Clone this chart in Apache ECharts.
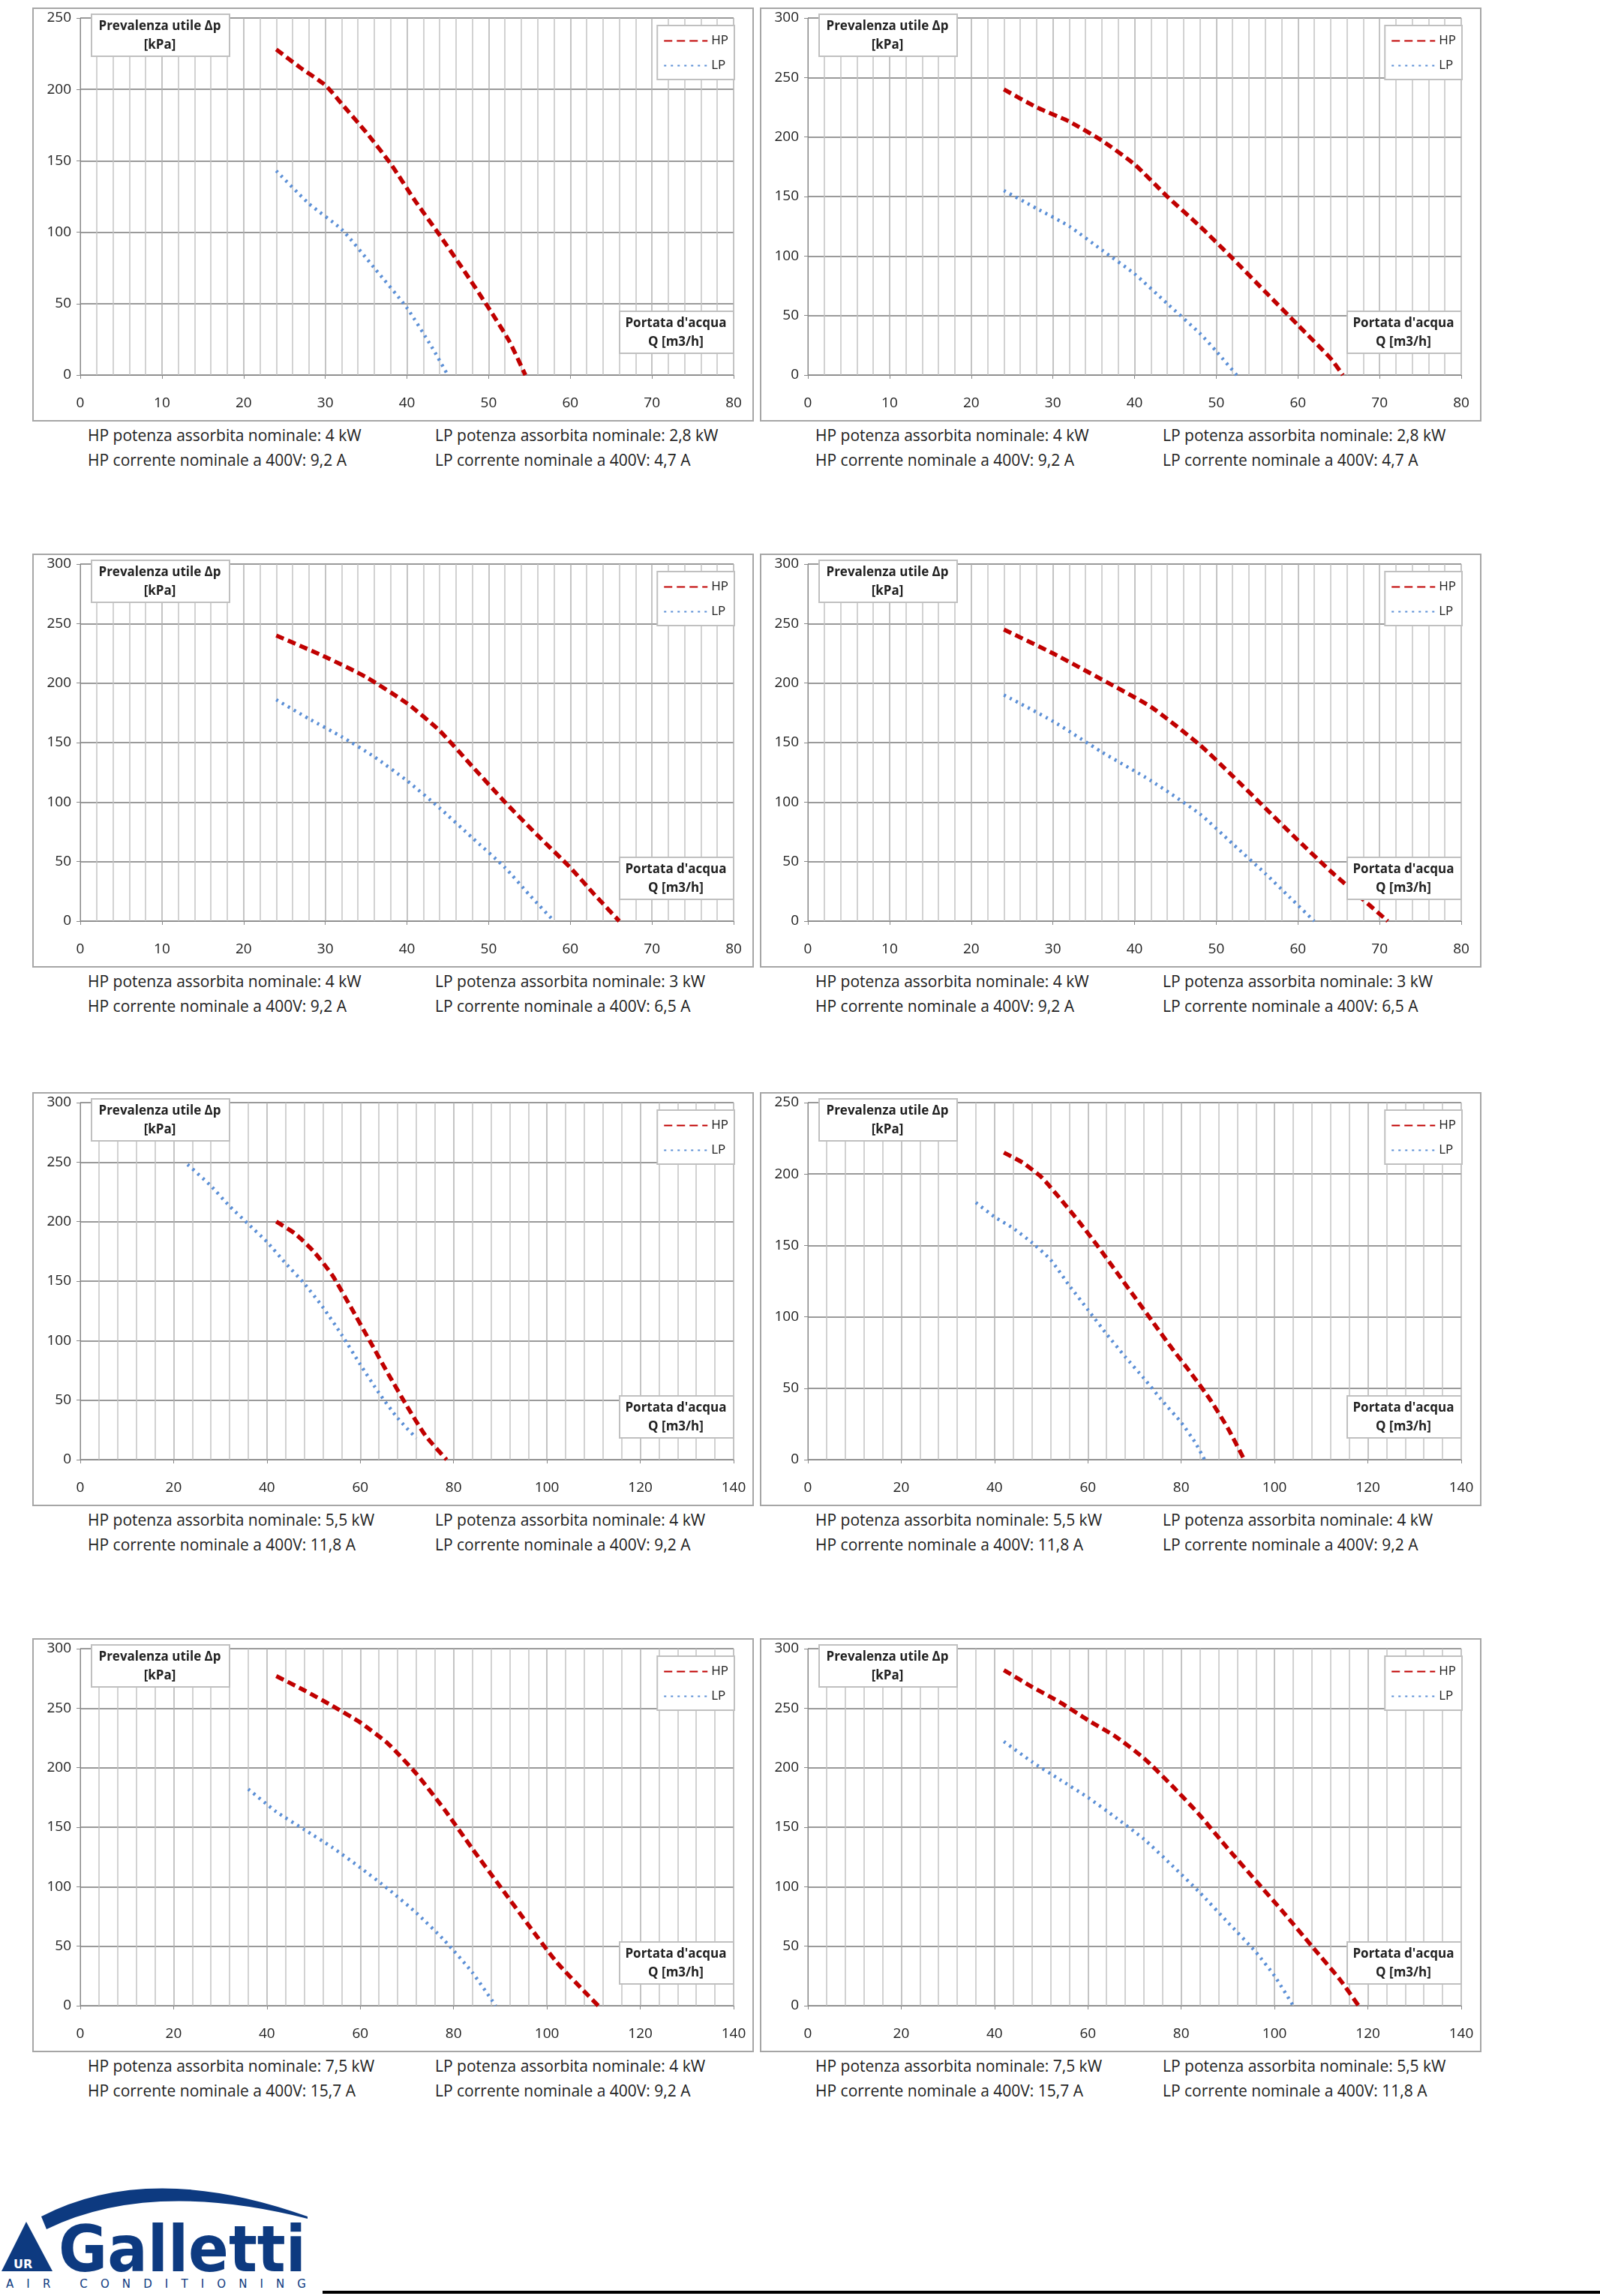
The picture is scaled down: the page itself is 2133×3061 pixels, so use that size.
<!DOCTYPE html>
<html>
<head>
<meta charset="utf-8">
<script src="https://cdn.jsdelivr.net/npm/echarts@6/dist/echarts.min.js"></script>
<style>
body { margin:0; background:#fff; width:2133px; height:3061px; position:relative; overflow:hidden;
  font-family:"Liberation Sans Narrow","Open Sans",sans-serif; }
.panel { position:absolute; width:962px; height:552px; border:2px solid #a6a6a6; box-sizing:border-box; }
.chart { position:absolute; left:0; top:0; width:958px; height:548px; }
.cap { position:absolute; font-size:21px; color:#222; white-space:nowrap; }
</style>
</head>
<body>
<script>
// curve values [Q m3/h, dp kPa]
var hp1 = [[24,228],[27,215],[30,203],[32,190],[35,170],[38,148],[41,122],[44,98],[47,73],[50,47],[52.5,24],[54.5,0]];
var lp1 = [[24,143],[28,120],[32,102],[36,75],[40,47],[43,20],[45,0]];
var hp2 = [[24,240],[28,225],[32,213],[36,197],[40,177],[44,150],[48,125],[52,98],[56,70],[60,42],[64,14],[65.5,0]];
var lp2 = [[24,155],[28,140],[32,125],[36,105],[40,85],[44,60],[48,35],[50,20],[52.5,0]];
var hp3 = [[24,240],[30,222],[35,205],[40,183],[44,160],[48,130],[52,100],[56,72],[60,45],[63,22],[66,0]];
var lp3 = [[24,186],[28,170],[32,155],[36,138],[40,118],[44,95],[48,70],[52,45],[55,22],[58,0]];
var hp4 = [[24,245],[30,225],[36,203],[42,180],[48,148],[52,122],[56,95],[60,68],[64,42],[68,18],[71,0]];
var lp4 = [[24,190],[30,168],[36,142],[42,118],[48,90],[52,65],[56,40],[59,20],[62,0]];
var hp5 = [[42,200],[46,190],[50,175],[54,155],[58,128],[62,100],[66,72],[70,45],[74,20],[78.5,0]];
var lp5 = [[23,248],[28,230],[32,213],[36,198],[40,183],[44,165],[48,148],[52,128],[56,105],[60,80],[64,56],[68,35],[72,18]];
var hp6 = [[42,215],[46,208],[50,198],[54,183],[58,167],[62,150],[66,132],[70,114],[74,96],[78,78],[82,61],[86,43],[90,22],[93.5,0]];
var lp6 = [[36,180],[40,170],[44,162],[48,152],[52,140],[56,122],[60,105],[64,88],[68,72],[72,57],[76,41],[80,26],[83,12],[85,0]];
var hp7 = [[42,277],[48,265],[54,252],[60,238],[66,220],[72,195],[78,165],[84,132],[90,100],[96,68],[102,37],[108,12],[111,0]];
var lp7 = [[36,182],[42,163],[48,148],[54,133],[60,116],[66,98],[72,78],[78,55],[84,28],[89,0]];
var hp8 = [[42,282],[48,268],[54,255],[60,240],[66,226],[72,208],[78,185],[84,160],[90,132],[96,105],[102,78],[108,50],[114,22],[118,0]];
var lp8 = [[42,222],[48,205],[54,190],[60,175],[66,158],[72,140],[78,118],[84,95],[90,70],[96,45],[100,25],[104,0]];

var xMax = [80, 80, 80, 80, 140, 140, 140, 140];
var yMax = [250, 300, 300, 300, 300, 250, 300, 300];
var hpPower = ['4', '4', '4', '4', '5,5', '5,5', '7,5', '7,5'];
var hpCurrent = ['9,2', '9,2', '9,2', '9,2', '11,8', '11,8', '15,7', '15,7'];
var lpPower = ['2,8', '2,8', '3', '3', '4', '4', '4', '5,5'];
var lpCurrent = ['4,7', '4,7', '6,5', '6,5', '9,2', '9,2', '9,2', '11,8'];
var hpData = [hp1, hp2, hp3, hp4, hp5, hp6, hp7, hp8];
var lpData = [lp1, lp2, lp3, lp4, lp5, lp6, lp7, lp8];

var font = '"Liberation Sans Narrow","Open Sans",sans-serif';
var colLeft = [43, 1013];
var rowTop = [10, 738, 1456, 2184];

function drawPanel(i) {
    var px = colLeft[i % 2], py = rowTop[Math.floor(i / 2)];
    var panel = document.createElement('div');
    panel.className = 'panel';
    panel.style.left = px + 'px';
    panel.style.top = py + 'px';
    document.body.appendChild(panel);
    var box = document.createElement('div');
    box.className = 'chart';
    panel.appendChild(box);

    var caps = [
        [74, 556, 'HP potenza assorbita nominale: ' + hpPower[i] + ' kW'],
        [537, 556, 'LP potenza assorbita nominale: ' + lpPower[i] + ' kW'],
        [74, 589, 'HP corrente nominale a 400V: ' + hpCurrent[i] + ' A'],
        [537, 589, 'LP corrente nominale a 400V: ' + lpCurrent[i] + ' A']
    ];
    caps.forEach(function (c) {
        var d = document.createElement('div');
        d.className = 'cap';
        d.style.left = (px + c[0]) + 'px';
        d.style.top = (py + c[1]) + 'px';
        d.textContent = c[2];
        document.body.appendChild(d);
    });

    var chart = echarts.init(box);
    var xInt = xMax[i] === 80 ? 10 : 20;
    chart.setOption({
        animation: false,
        textStyle: {fontFamily: font},
        grid: {left: 62, right: 25, top: 12, bottom: 60},
        xAxis: {
            type: 'value', min: 0, max: xMax[i], interval: xInt,
            axisLine: {lineStyle: {color: '#888'}},
            axisTick: {show: true, lineStyle: {color: '#888'}},
            axisLabel: {fontSize: 19, color: '#222', margin: 28, fontFamily: font},
            splitLine: {show: true, lineStyle: {color: '#b0b0b0', width: 1.5}},
            minorTick: {show: false, splitNumber: 5},
            minorSplitLine: {show: true, lineStyle: {color: '#c4c4c4', width: 1.5}}
        },
        yAxis: {
            type: 'value', min: 0, max: yMax[i], interval: 50,
            axisLine: {show: true, lineStyle: {color: '#888'}},
            axisTick: {show: true, lineStyle: {color: '#888'}},
            axisLabel: {fontSize: 19, color: '#222', margin: 12, fontFamily: font},
            splitLine: {lineStyle: {color: '#9a9a9a', width: 2}}
        },
        legend: {
            orient: 'vertical', right: 24, top: 22, itemGap: 16,
            backgroundColor: '#fff', borderColor: '#c0c0c0', borderWidth: 2,
            padding: [12, 8, 10, 8], itemWidth: 58, itemHeight: 14,
            itemStyle: {opacity: 0},
            textStyle: {fontSize: 17, color: '#222', fontFamily: font},
            data: ['HP', 'LP']
        },
        graphic: [
            {type: 'rect', left: 76, top: 6, shape: {width: 184, height: 56},
             style: {fill: '#fff', stroke: '#c0c0c0', lineWidth: 2}, z: 50},
            {type: 'text', z: 51,
             style: {x: 168, y: 11, text: 'Prevalenza utile Δp\n[kPa]', align: 'center', fill: '#222',
                     font: 'bold 17px ' + font, lineHeight: 25}},
            {type: 'rect', left: 780, top: 402, shape: {width: 152, height: 56},
             style: {fill: '#fff', stroke: '#c0c0c0', lineWidth: 2}, z: 50},
            {type: 'text', z: 51,
             style: {x: 856, y: 407, text: "Portata d'acqua\nQ [m3/h]", align: 'center', fill: '#222',
                     font: 'bold 17px ' + font, lineHeight: 25}}
        ],
        series: [
            {name: 'HP', type: 'line', data: hpData[i], smooth: 0.2, showSymbol: false, symbol: 'none',
             lineStyle: {color: '#c00000', width: 5.5, type: [11, 6]}, itemStyle: {color: '#c00000'}, z: 5},
            {name: 'LP', type: 'line', data: lpData[i], smooth: 0.2, showSymbol: false, symbol: 'none',
             lineStyle: {color: '#5b8fd6', width: 4.5, type: [3, 6]}, itemStyle: {color: '#5b8fd6'}, z: 4}
        ]
    });
}
for (var k = 0; k < 8; k++) drawPanel(k);
</script>
<svg style="position:absolute;left:0;top:2900px" width="2133" height="161">
  <path d="M55,55 Q200,-20 410,55 L410,58 Q200,5 62,72 Z" fill="#0d3a80"/>
  <path d="M2,128 L35,62 L70,128 Z" fill="#0d3a80"/>
  <text x="18" y="124" font-family="DejaVu Sans" font-weight="bold" font-size="16" fill="#fff">UR</text>
  <text x="78" y="128" font-family="DejaVu Sans" font-weight="bold" font-size="86" fill="#0d3a80" textLength="330" lengthAdjust="spacingAndGlyphs">Galletti</text>
  <text x="8" y="150" font-family="DejaVu Sans" font-size="15" fill="#0d3a80" textLength="400" lengthAdjust="spacing">AIR CONDITIONING</text>
  <rect x="430" y="154" width="1703" height="4" fill="#000"/>
</svg>
</body>
</html>
